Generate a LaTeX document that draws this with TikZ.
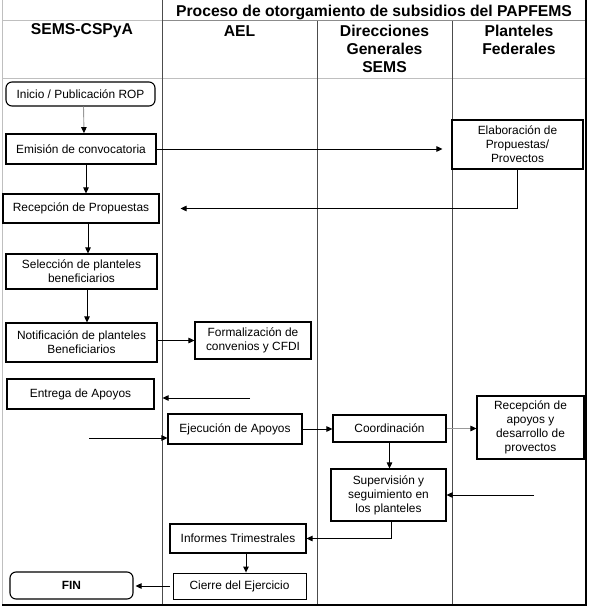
\documentclass[tikz,border=0pt]{standalone}
\usepackage{fontspec}
\setmainfont{Liberation Sans}
\usetikzlibrary{arrows.meta}

\tikzset{
	proc/.style={draw, line width=1.1pt, align=center, inner sep=0pt, font=\fontsize{11.9}{14}\selectfont},
	term/.style={proc, rounded corners=6pt},
	head/.style={align=center, font=\fontsize{15.7}{18}\selectfont\bfseries},
	flow/.style={line width=0.9pt, arrows={-Triangle[length=6pt,width=5.5pt]}},
	greyflow/.style={flow, draw=black!40, arrows={-Triangle[length=6pt,width=5.5pt,color=black]}},
	lane/.style={draw=black!70, line width=1pt},
	faint/.style={draw=black!25, line width=1pt}
}

\begin{document}
\begin{tikzpicture}[x=1pt, y=-1pt]

	\useasboundingbox (0,0) rectangle (590,610);

	\draw [faint] (2,0) -- (2,605);
	\draw [faint] (2,21) -- (162,21);
	\draw [draw=black!45, line width=1pt] (162,21) -- (586,21);
	\draw [faint] (2,78) -- (586,78);
	\draw [lane] (162,0) -- (162,605);
	\draw [lane] (317,21) -- (317,605);
	\draw [lane] (452,21) -- (452,605);
	\draw [line width=1.2pt] (586,0) -- (586,605) -- (2,605);

	\node [head] (title) at (374,12.5) {Proceso de otorgamiento de subsidios del PAPFEMS};
	\node [head] (hsems) at (82,31) {SEMS-CSPyA};
	\node [head] (hael) at (239.5,31) {AEL};
	\node [head] (hdir) at (384.5,49) {Direcciones\\Generales\\SEMS};
	\node [head] (hplan) at (519,40) {Planteles\\Federales};

	\node [term, minimum width=149, minimum height=24] (inicio) at (80.5,94) {Inicio / Publicación ROP};
	\node [proc, line width=1.8pt, minimum width=150, minimum height=30] (emision) at (81,149) {Emisión de convocatoria};
	\node [proc, minimum width=131, minimum height=49] (elab) at (517.5,144.5) {Elaboración de\\Propuestas/\\Provectos};
	\node [proc, minimum width=156, minimum height=29] (recprop) at (81,208.5) {Recepción de Propuestas};
	\node [proc, minimum width=151, minimum height=35] (selec) at (81.5,271.5) {Selección de planteles\\beneficiarios};
	\node [proc, minimum width=151, minimum height=39] (notif) at (81.5,342.5) {Notificación de planteles\\Beneficiarios};
	\node [proc, minimum width=116, minimum height=37] (formal) at (253,340.5) {Formalización de\\convenios y CFDI};
	\node [proc, minimum width=147, minimum height=30] (entrega) at (80.5,394) {Entrega de Apoyos};
	\node [proc, minimum width=134, minimum height=30] (ejec) at (235,429) {Ejecución de Apoyos};
	\node [proc, minimum width=113, minimum height=27] (coord) at (389.5,428.5) {Coordinación};
	\node [proc, minimum width=107, minimum height=63] (recapoyos) at (530.5,427.5) {Recepción de\\apoyos y\\desarrollo de\\provectos};
	\node [proc, minimum width=115, minimum height=52] (superv) at (388.5,495) {Supervisión y\\seguimiento en\\los planteles};
	\node [proc, minimum width=136, minimum height=29] (informes) at (238,538.5) {Informes Trimestrales};
	\node [proc, line width=0.9pt, minimum width=133, minimum height=26] (cierre) at (239.5,586) {Cierre del Ejercicio};
	\node [term, font=\fontsize{11.9}{14}\selectfont\bfseries, minimum width=123, minimum height=27] (fin) at (71.5,585.5) {FIN};

	\coordinate (entIn) at (250,398);
	\coordinate (ejIn) at (89,438);
	\coordinate (supIn) at (534,495);
	\coordinate (infoOut) at ([xshift=8pt]informes.south);

	\draw [greyflow] ([xshift=3pt]inicio.south) -- ([xshift=3pt]emision.north);
	\draw [flow, shorten >=9pt] (emision.east) -- (emision.east -| elab.west);
	\draw [flow, shorten >=21pt] (elab.south) |- (recprop.east);
	\draw [flow] ([xshift=5pt]emision.south) -- ([xshift=5pt]recprop.north);
	\draw [flow] ([xshift=7pt]recprop.south) -- ([xshift=6.5pt]selec.north);
	\draw [flow] ([xshift=5.5pt]selec.south) -- ([xshift=5.5pt]notif.north);
	\draw [flow] (notif.east |- formal.west) -- (formal.west);
	\draw [flow, shorten >=8pt] (entIn) -- (entIn -| entrega.east);
	\draw [flow] (ejIn) -- (ejIn -| ejec.west);
	\draw [flow] (ejec.east) -- (ejec.east -| coord.west);
	\draw [greyflow] (coord.east) -- (coord.east -| recapoyos.west);
	\draw [flow] (coord.south) -- (coord.south |- superv.north);
	\draw [flow] (supIn) -- (supIn -| superv.east);
	\draw [flow] ([xshift=2.5pt]superv.south) |- (informes.east);
	\draw [flow] (infoOut) -- (infoOut |- cierre.north);
	\draw [flow, shorten <=3pt, shorten >=2pt] (cierre.west) -- (cierre.west -| fin.east);

\end{tikzpicture}
\end{document}
